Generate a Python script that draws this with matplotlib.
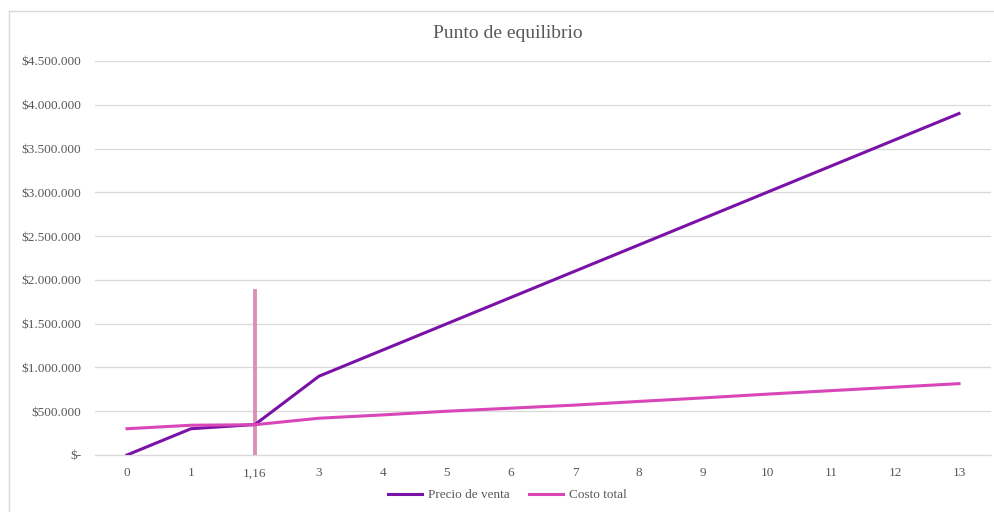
import numpy as np
import matplotlib.pyplot as plt
from matplotlib.lines import Line2D
from matplotlib.ticker import FuncFormatter

# Cantidades (unidades) y valores de cada serie
cantidades = ['0', '1', '1,16', '3', '4', '5', '6', '7', '8', '9', '10', '11', '12', '13']
precio_venta = [0, 300000, 348000, 900000, 1200000, 1500000, 1800000, 2100000,
                2400000, 2700000, 3000000, 3300000, 3600000, 3900000]
costo_total = [300000, 340000, 346000, 420000, 458000, 500000, 535000, 570000,
               612000, 652000, 695000, 735000, 775000, 815000]
# Linea vertical en el punto de equilibrio
punto_equilibrio = '1,16'
linea_equilibrio = [0, 1900000]

plt.rcParams['font.family'] = ['Liberation Serif', 'DejaVu Serif']

color_precio = '#7a12a8'
color_costo = '#d846b8'
color_equilibrio = '#d991b6'
gris = '#595959'

fig = plt.figure(figsize=(9.95, 5.12), dpi=100)
ax = fig.add_axes([95 / 995, 57 / 512, 896 / 995, 394 / 512])

x = np.arange(len(cantidades))
ax.plot(x, precio_venta, color=color_precio, lw=2.2, label='Precio de venta', zorder=3)
ax.plot(x, costo_total, color=color_costo, lw=2.2, label='Costo total', zorder=3)
xe = cantidades.index(punto_equilibrio)
ax.vlines(xe, linea_equilibrio[0], linea_equilibrio[1], color=color_equilibrio, lw=2.8, zorder=2)

ax.set_xlim(-0.5, len(cantidades) - 0.5)
ax.set_ylim(0, 4500000)
ax.set_yticks(np.arange(0, 4500001, 500000))
ax.yaxis.set_major_formatter(FuncFormatter(
    lambda v, p: '$-' if v == 0 else '$' + f'{int(v):,}'.replace(',', '.')))
ax.set_xticks(x)
ax.set_xticklabels(cantidades)
ax.tick_params(length=0, labelsize=9.5, labelcolor=gris)
ax.tick_params(axis='y', pad=10)
ax.tick_params(axis='x', pad=9)
ax.grid(axis='y', color='#d9d9d9', lw=0.9)
ax.axhline(0, color='#d9d9d9', lw=0.9, clip_on=False, zorder=1)
ax.set_axisbelow(True)
for s in ax.spines.values():
    s.set_visible(False)

fig.text(508 / 995, 1 - 33 / 512, 'Punto de equilibrio', ha='center', va='center',
         fontsize=14, color=gris)

ax.legend(loc='center', bbox_to_anchor=(0.46, -0.102), ncol=2, frameon=False,
          fontsize=9.5, labelcolor=gris, handlelength=2.6, columnspacing=1.5,
          handletextpad=0.4)

# Borde del area del grafico
fig.add_artist(Line2D([9 / 995, 1], [1 - 11 / 512, 1 - 11 / 512], color='#d9d9d9', lw=1))
fig.add_artist(Line2D([9 / 995, 9 / 995], [0, 1 - 11 / 512], color='#d9d9d9', lw=1))

fig.savefig('out.png', dpi=100)
